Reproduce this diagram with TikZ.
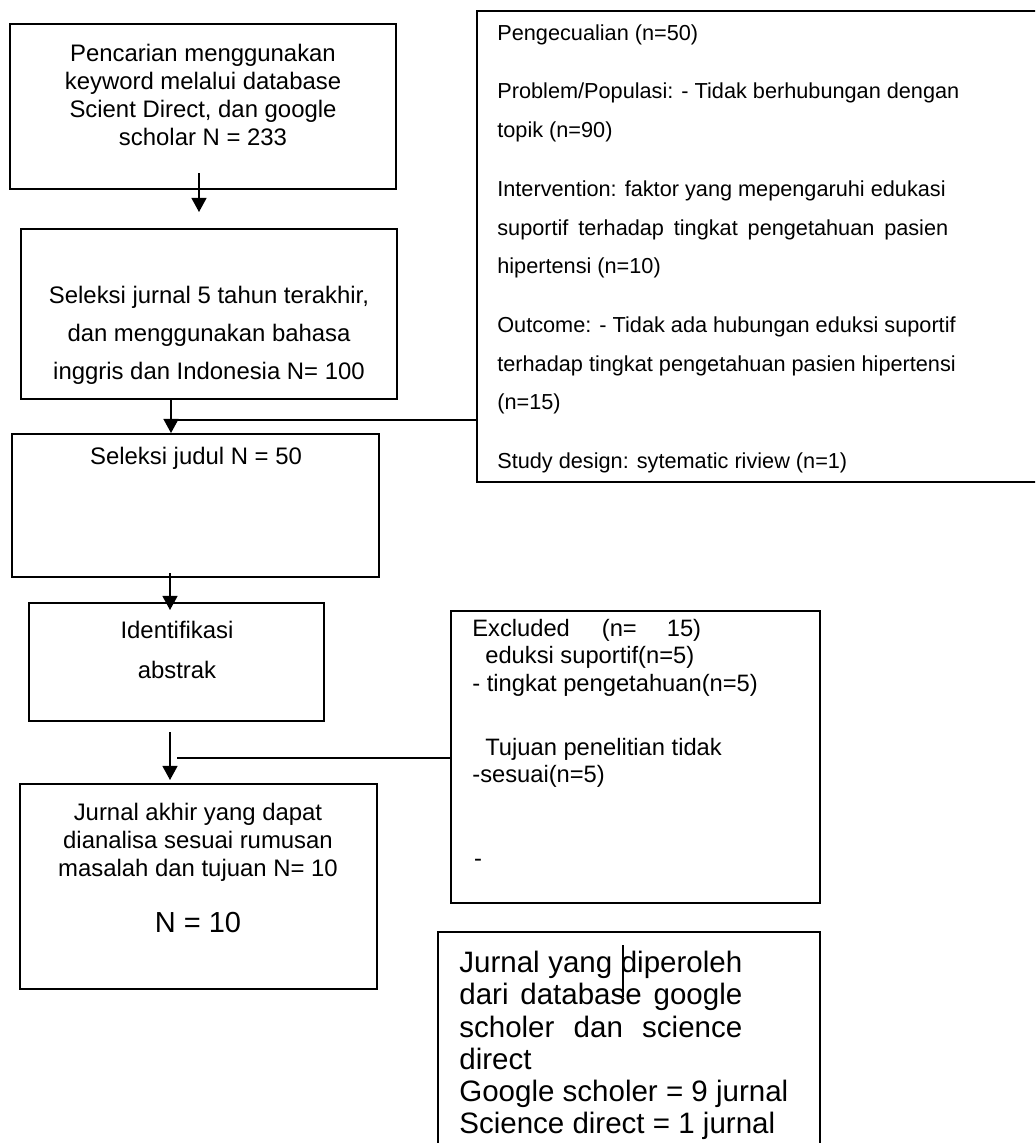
\documentclass[tikz,border=0pt]{standalone}
\usepackage{fontspec}
\setmainfont{Liberation Sans}
\usetikzlibrary{arrows.meta,fit}

\begin{document}
\begin{tikzpicture}[x=0.02cm, y=-0.02cm,
  box/.style={draw, line width=1.1pt, inner sep=0pt},
  thinbox/.style={draw, line width=0.6pt, inner sep=0pt},
  arr/.style={-{Triangle[length=8pt, width=8.5pt]}, line width=0.9pt},
  side/.style={line width=0.6pt},
  midtxt/.style={align=center, inner sep=0pt, font=\fontsize{13.6}{16}\selectfont},
  widetxt/.style={align=center, inner sep=0pt, font=\fontsize{13.6}{21.6}\selectfont},
  sidetxt/.style={align=left, inner sep=0pt, anchor=north west, font=\fontsize{12.35}{22}\selectfont},
  exctxt/.style={align=left, inner sep=0pt, font=\fontsize{13.5}{15.6}\selectfont},
  bigtxt/.style={align=left, inner sep=0pt, anchor=north west, font=\fontsize{16.8}{18.3}\selectfont}]
\useasboundingbox (0,0) rectangle (1035,1143);
\clip (0,0) rectangle (1035,1143);
%%%%% Left column %%%%%
\node[box, fit={(10,24) (396,189)}] (cari) {};
\node[midtxt] (caritxt) at (203,95) {Pencarian menggunakan\\keyword melalui database\\Scient Direct, dan google\\scholar N = 233};
\node[box, fit={(21,229) (397,399)}] (seljurnal) {};
\node[widetxt] (seljurnaltxt) at (209,335) {Seleksi jurnal 5 tahun terakhir,\\dan menggunakan bahasa\\inggris dan Indonesia N= 100};
\node[box, fit={(12,434) (379,577)}] (seljudul) {};
\node[midtxt] (seljudultxt) at (196,458) {Seleksi judul N = 50};
\node[box, fit={(29,603) (324,721)}] (abstrak) {};
\node[align=center, inner sep=0pt, font=\fontsize{13.6}{22.8}\selectfont] (abstraktxt) at (177,650) {Identifikasi\\abstrak};
\node[box, fit={(20,784) (377,989)}] (akhir) {};
\node[midtxt] (akhirtxt) at (198,842) {Jurnal akhir yang dapat\\dianalisa sesuai rumusan\\masalah dan tujuan N= 10};
\node[inner sep=0pt, font=\fontsize{16.5}{18}\selectfont] (akhirn) at (198,923) {N = 10};
%%%%% Right column %%%%%
\node[box, fit={(477,11) (1050,482)}] (kecuali) {};
\node[sidetxt] (kecualitxt) at (497,24) {Pengecualian (n=50)\\[11.5pt]
Problem/Populasi: - Tidak berhubungan dengan\\
topik (n=90)\\[11.5pt]
Intervention: faktor yang mepengaruhi edukasi\\
\makebox[9.02cm][s]{suportif terhadap tingkat pengetahuan pasien}\\
hipertensi (n=10)\\[11.5pt]
Outcome: - Tidak ada hubungan eduksi suportif\\
terhadap tingkat pengetahuan pasien hipertensi\\
(n=15)\\[11.5pt]
Study design: sytematic riview (n=1)};
\node[box, fit={(451,611) (820,903)}] (excl) {};
\node[exctxt, anchor=north west] (excltxt) at (472,619) {Excluded\hspace{0.64cm}(n=\hspace{0.6cm}15)\\
\hspace*{0.26cm}eduksi suportif(n=5)\\
- tingkat pengetahuan(n=5)\\[20.8pt]
\hspace*{0.26cm}Tujuan penelitian tidak\\
-sesuai(n=5)};
\node[exctxt] (dash) at (478,863) {-};
\node[thinbox, fit={(438,932) (820,1160)}] (hasil) {};
\node[bigtxt] (hasiltxt) at (459,951) {\makebox[5.66cm][s]{Jurnal yang diperoleh}\\
\makebox[5.66cm][s]{dari database google}\\
\makebox[5.66cm][s]{scholer dan science}\\
direct\\
Google scholer = 9 jurnal\\
Science direct = 1 jurnal};
\coordinate (kursor) at (623,945);
\draw[side] (kursor) -- ++(0,52);
%%%%% Arrows %%%%%
\coordinate (a1top) at (199,173);
\coordinate (a1tip) at (199,212);
\draw[arr] (a1top) -- (a1tip);
\coordinate (c2) at (171,0);
\draw[arr] (c2 |- seljurnal.south) -- (c2 |- seljudul.north);
\coordinate (s2) at (175,420);
\draw[side] (s2) -- (s2 -| kecuali.west);
\coordinate (a3top) at (170,573);
\coordinate (a3tip) at (170,610);
\draw[arr] (a3top) -- (a3tip);
\coordinate (a4top) at (170,732);
\coordinate (a4tip) at (170,780);
\draw[arr] (a4top) -- (a4tip);
\coordinate (s4) at (177,758);
\draw[side] (s4) -- (s4 -| excl.west);
\end{tikzpicture}
\end{document}
